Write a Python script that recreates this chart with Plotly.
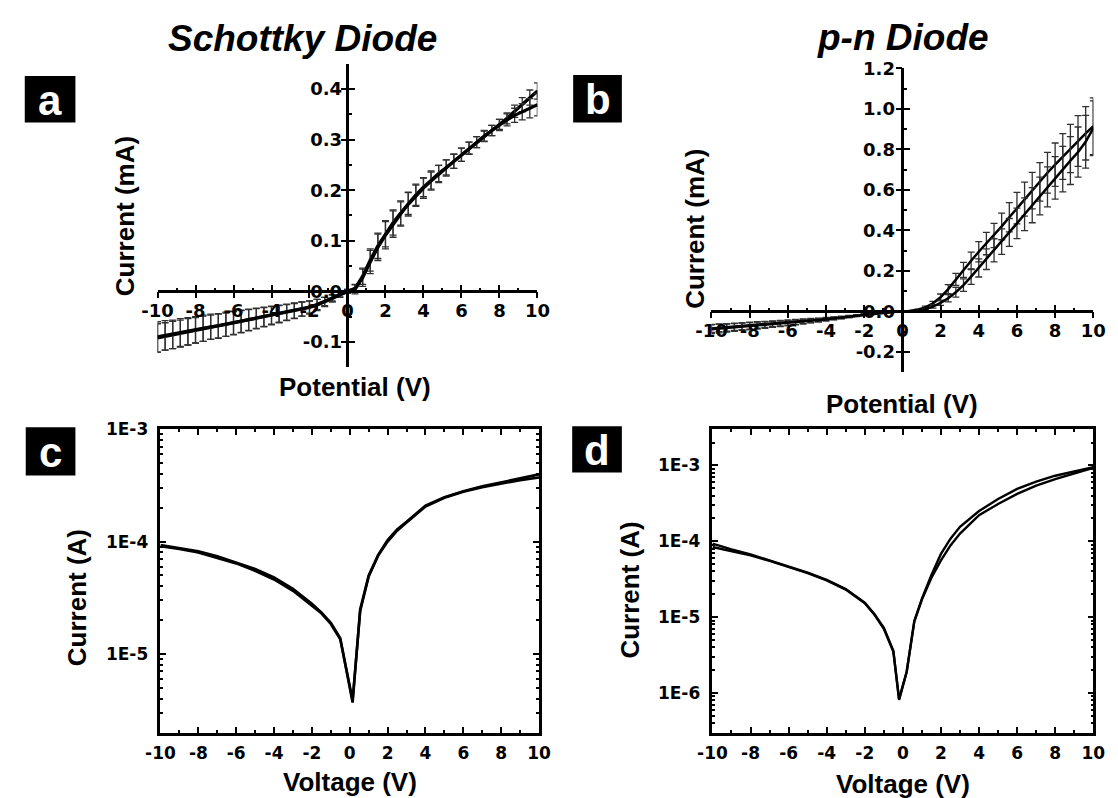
import math
import plotly.graph_objects as go

W, H = 1118, 798
FONT = "Liberation Sans, Arial, sans-serif"
TFONT = "DejaVu Sans, sans-serif"

# ---------------- data ----------------
# sweep voltages used for panels a and b (V)
v_sweep = [-10.0, -9.6, -9.2, -8.8, -8.4, -8.0, -7.6, -7.2, -6.8, -6.4, -6.0, -5.6, -5.2,
           -4.8, -4.4, -4.0, -3.6, -3.2, -2.8, -2.4, -2.0, -1.6, -1.2, -0.8, -0.4, 0.0,
           0.4, 0.8, 1.2, 1.6, 2.0, 2.4, 2.8, 3.2, 3.6, 4.0, 4.4, 4.8, 5.2, 5.6, 6.0,
           6.4, 6.8, 7.2, 7.6, 8.0, 8.4, 8.8, 9.2, 9.6, 10.0]

# panel a: Schottky diode, current (mA)
a_fwd = [-0.092, -0.089, -0.086, -0.083, -0.080, -0.077, -0.074, -0.071, -0.069, -0.066, -0.063,
         -0.060, -0.057, -0.054, -0.051, -0.048, -0.045, -0.042, -0.039, -0.035, -0.032, -0.027,
         -0.021, -0.014, -0.007, 0.000,
         0.006, 0.030, 0.062, 0.090, 0.114, 0.136, 0.155, 0.174, 0.191, 0.206, 0.220, 0.233,
         0.245, 0.257, 0.270, 0.283, 0.295, 0.307, 0.318, 0.330, 0.342, 0.356, 0.369, 0.383, 0.396]
a_rev = [-0.090, -0.087, -0.085, -0.082, -0.079, -0.076, -0.073, -0.070, -0.068, -0.065, -0.062,
         -0.059, -0.056, -0.053, -0.050, -0.047, -0.044, -0.041, -0.038, -0.035, -0.031, -0.026,
         -0.020, -0.013, -0.006, 0.000,
         0.004, 0.027, 0.058, 0.087, 0.111, 0.133, 0.153, 0.172, 0.189, 0.204, 0.218, 0.232,
         0.244, 0.257, 0.270, 0.283, 0.295, 0.307, 0.318, 0.329, 0.339, 0.348, 0.355, 0.362, 0.369]
a_fwd_err = [0.028, 0.027, 0.027, 0.026, 0.026, 0.025, 0.025, 0.024, 0.024, 0.023, 0.023, 0.022,
             0.021, 0.020, 0.019, 0.018, 0.017, 0.016, 0.015, 0.014, 0.013, 0.011, 0.009, 0.007,
             0.005, 0.004,
             0.008, 0.016, 0.022, 0.025, 0.026, 0.025, 0.024, 0.022, 0.021, 0.019, 0.018, 0.016,
             0.015, 0.014, 0.013, 0.012, 0.011, 0.010, 0.010, 0.010, 0.011, 0.012, 0.014, 0.015, 0.016]
a_rev_err = [0.030, 0.029, 0.028, 0.028, 0.027, 0.026, 0.026, 0.025, 0.024, 0.024, 0.023, 0.022,
             0.021, 0.020, 0.019, 0.018, 0.017, 0.016, 0.015, 0.014, 0.012, 0.010, 0.008, 0.006,
             0.005, 0.004,
             0.009, 0.017, 0.023, 0.026, 0.027, 0.026, 0.024, 0.023, 0.021, 0.020, 0.018, 0.017,
             0.016, 0.014, 0.013, 0.012, 0.011, 0.011, 0.010, 0.011, 0.012, 0.014, 0.016, 0.019, 0.022]

# panel b: p-n diode, current (mA)
b_fwd = [-0.084, -0.081, -0.079, -0.076, -0.073, -0.070, -0.067, -0.064, -0.061, -0.058, -0.055,
         -0.052, -0.048, -0.045, -0.042, -0.038, -0.034, -0.030, -0.025, -0.020, -0.015, -0.011,
         -0.007, -0.004, -0.002, 0.000,
         0.002, 0.008, 0.020, 0.040, 0.070, 0.110, 0.158, 0.205, 0.250, 0.295, 0.335, 0.375,
         0.420, 0.465, 0.510, 0.555, 0.597, 0.640, 0.685, 0.725, 0.765, 0.805, 0.842, 0.880, 0.915]
b_rev = [-0.088, -0.085, -0.082, -0.079, -0.076, -0.073, -0.070, -0.067, -0.064, -0.061, -0.058,
         -0.054, -0.051, -0.047, -0.043, -0.039, -0.035, -0.031, -0.026, -0.021, -0.016, -0.012,
         -0.008, -0.004, -0.002, 0.000,
         0.001, 0.004, 0.011, 0.024, 0.042, 0.065, 0.095, 0.130, 0.172, 0.215, 0.258, 0.302,
         0.345, 0.390, 0.435, 0.480, 0.525, 0.570, 0.615, 0.660, 0.703, 0.745, 0.787, 0.838, 0.905]
b_fwd_err = [0.020, 0.019, 0.019, 0.018, 0.017, 0.017, 0.016, 0.015, 0.014, 0.014, 0.013, 0.012,
             0.011, 0.010, 0.009, 0.008, 0.007, 0.006, 0.005, 0.004, 0.004, 0.003, 0.002, 0.002,
             0.001, 0.001,
             0.001, 0.003, 0.006, 0.010, 0.016, 0.022, 0.030, 0.037, 0.043, 0.050, 0.055, 0.060,
             0.066, 0.072, 0.078, 0.084, 0.090, 0.095, 0.101, 0.107, 0.113, 0.119, 0.125, 0.132, 0.140]
b_rev_err = [0.022, 0.021, 0.020, 0.019, 0.018, 0.018, 0.017, 0.016, 0.015, 0.014, 0.013, 0.012,
             0.011, 0.010, 0.009, 0.008, 0.007, 0.006, 0.005, 0.004, 0.004, 0.003, 0.002, 0.002,
             0.001, 0.001,
             0.001, 0.002, 0.004, 0.008, 0.012, 0.018, 0.024, 0.031, 0.038, 0.045, 0.051, 0.057,
             0.063, 0.069, 0.075, 0.081, 0.087, 0.093, 0.099, 0.105, 0.112, 0.118, 0.124, 0.130, 0.135]

# panel c: Schottky diode, |current| (A)
c_v = [-10, -9, -8, -7, -6, -5, -4, -3, -2, -1.5, -1, -0.5, 0.15, 0.55, 1, 1.5, 2, 2.5, 3,
       4, 5, 6, 7, 8, 9, 10]
c_fwd = [9.3e-5, 8.8e-5, 8.2e-5, 7.4e-5, 6.5e-5, 5.7e-5, 4.8e-5, 3.8e-5, 2.8e-5, 2.35e-5, 1.9e-5,
         1.38e-5, 3.7e-6, 2.5e-5, 5.0e-5, 7.6e-5, 1.03e-4, 1.28e-4, 1.5e-4, 2.09e-4, 2.48e-4,
         2.8e-4, 3.1e-4, 3.37e-4, 3.66e-4, 3.96e-4]
c_rev = [9.1e-5, 8.6e-5, 8.0e-5, 7.2e-5, 6.4e-5, 5.5e-5, 4.6e-5, 3.65e-5, 2.7e-5, 2.3e-5, 1.85e-5,
         1.35e-5, 3.9e-6, 2.4e-5, 4.9e-5, 7.5e-5, 1.0e-4, 1.25e-4, 1.48e-4, 2.05e-4, 2.45e-4,
         2.78e-4, 3.05e-4, 3.3e-4, 3.52e-4, 3.72e-4]

# panel d: p-n diode, |current| (A)
d_v = [-10, -9, -8, -7, -6, -5, -4, -3, -2, -1.5, -1, -0.5, -0.2, 0.2, 0.6, 1, 1.5, 2, 2.5, 3,
       4, 5, 6, 7, 8, 9, 10]
d_fwd = [9.3e-5, 7.8e-5, 6.7e-5, 5.6e-5, 4.7e-5, 3.85e-5, 3.1e-5, 2.35e-5, 1.55e-5, 1.1e-5, 7.2e-6,
         3.6e-6, 8.1e-7, 1.9e-6, 8.9e-6, 1.75e-5, 3.6e-5, 6.8e-5, 1.08e-4, 1.55e-4, 2.5e-4,
         3.6e-4, 4.9e-4, 6.1e-4, 7.3e-4, 8.4e-4, 9.5e-4]
d_rev = [8.4e-5, 7.4e-5, 6.5e-5, 5.5e-5, 4.6e-5, 3.8e-5, 3.05e-5, 2.3e-5, 1.52e-5, 1.08e-5, 7.0e-6,
         3.5e-6, 8.3e-7, 1.9e-6, 8.7e-6, 1.7e-5, 3.3e-5, 5.6e-5, 8.8e-5, 1.26e-4, 2.2e-4,
         3.1e-4, 4.2e-4, 5.4e-4, 6.6e-4, 7.9e-4, 9.3e-4]

# tick labels
x_tickvals = [-10, -8, -6, -4, -2, 0, 2, 4, 6, 8, 10]
x_ticktext = ["-10", "-8", "-6", "-4", "-2", "0", "2", "4", "6", "8", "10"]
a_y_tickvals = [-0.1, 0.0, 0.1, 0.2, 0.3, 0.4]
a_y_ticktext = ["-0.1", "0.0", "0.1", "0.2", "0.3", "0.4"]
b_y_tickvals = [-0.2, 0.0, 0.2, 0.4, 0.6, 0.8, 1.0, 1.2]
b_y_ticktext = ["-0.2", "0.0", "0.2", "0.4", "0.6", "0.8", "1.0", "1.2"]
c_y_tickvals = [1e-5, 1e-4, 1e-3]
c_y_ticktext = ["1E-5", "1E-4", "1E-3"]
d_y_tickvals = [1e-6, 1e-5, 1e-4, 1e-3]
d_y_ticktext = ["1E-6", "1E-5", "1E-4", "1E-3"]


# ---------------- helpers (layout positions in pixels) ----------------
def fx(p):
    return p / W


def fy(p):
    return 1 - p / H


def bold(lst):
    return ["<b>%s</b>" % t for t in lst]


tickfont_lin = dict(family=TFONT, size=18, color="black")
tickfont_log = dict(family=TFONT, size=17, color="black")
err_col = "#303030"

fig = go.Figure()


def add_curve(x, y, err, xa, ya, width):
    fig.add_trace(go.Scatter(
        x=x, y=y, xaxis=xa, yaxis=ya, mode="lines",
        line=dict(color="black", width=width),
        error_y=dict(type="data", array=err, visible=True, color=err_col,
                     thickness=1.3, width=3.5),
        showlegend=False, hoverinfo="skip"))


add_curve(v_sweep, a_fwd, a_fwd_err, "x", "y", 3.2)
add_curve(v_sweep, a_rev, a_rev_err, "x", "y", 3.2)
add_curve(v_sweep, b_fwd, b_fwd_err, "x2", "y2", 2.5)
add_curve(v_sweep, b_rev, b_rev_err, "x2", "y2", 2.5)

for yy in (c_fwd, c_rev):
    fig.add_trace(go.Scatter(x=c_v, y=yy, xaxis="x3", yaxis="y3", mode="lines",
                             line=dict(color="black", width=2.6), showlegend=False,
                             hoverinfo="skip"))
for yy in (d_fwd, d_rev):
    fig.add_trace(go.Scatter(x=d_v, y=yy, xaxis="x4", yaxis="y4", mode="lines",
                             line=dict(color="black", width=2.4), showlegend=False,
                             hoverinfo="skip"))

# dummy traces so the overlay tick axes are drawn
fig.add_trace(go.Scatter(x=[None], y=[None], xaxis="x5", yaxis="y5", showlegend=False))
fig.add_trace(go.Scatter(x=[None], y=[None], xaxis="x6", yaxis="y6", showlegend=False))

base = dict(showgrid=False, zeroline=False, showline=True, linecolor="black",
            linewidth=2.6, tickcolor="black", tickwidth=2, ticklen=6)
lin = dict(base, tickfont=tickfont_lin)
logc = dict(base, tickfont=tickfont_log)
tick_only = dict(showline=False, showgrid=False, zeroline=False, showticklabels=False,
                 ticks="outside", tickmode="linear", tick0=0, ticklen=6,
                 tickwidth=2, tickcolor="black")

# panel a geometry
a_dom_x = [fx(145.3), fx(535.3)]
a_dom_y = [fy(361.25), fy(53.45)]
a_xpos = fy(284.3)
a_ypos = fx(340.3)
# panel b geometry
b_dom_x = [fx(714), fx(1106)]
b_dom_y = [fy(366.2), fy(58.3)]
b_xpos = fy(304.6)
b_ypos = fx(910)
# panels c, d geometry
c_dom_x = [fx(148.3), fx(537)]
d_dom_x = [fx(715), fx(1106)]
cd_dom_y = [fy(731.7), fy(424)]

c_minor = [m * 10 ** e for e in (-6, -5, -4) for m in range(2, 10)]
d_minor = [m * 10 ** e for e in (-7, -6, -5, -4, -3) for m in range(2, 10)]


def minor(dt):
    return dict(ticks="inside", tickmode="linear", tick0=0, dtick=dt,
                ticklen=3, tickwidth=2, tickcolor="black")


fig.update_layout(
    width=W, height=H, autosize=False,
    margin=dict(l=0, r=0, t=0, b=0),
    paper_bgcolor="white", plot_bgcolor="rgba(0,0,0,0)",
    font=dict(family=FONT, color="black"),
    # ---- panel a
    xaxis=dict(domain=a_dom_x, range=[-10, 10], anchor="free", position=a_xpos,
               ticks="inside", tickmode="array", tickvals=x_tickvals,
               ticktext=bold(x_ticktext), ticklabelstandoff=2, minor=minor(1), **lin),
    yaxis=dict(domain=a_dom_y, range=[-0.15, 0.45], anchor="free", position=a_ypos,
               ticks="inside", tickmode="array", tickvals=a_y_tickvals,
               ticktext=bold(a_y_ticktext), ticklabelstandoff=1, minor=minor(0.05),
               **lin),
    xaxis5=dict(overlaying="x", range=[-10, 10], anchor="free", position=a_xpos,
                dtick=2, **tick_only),
    yaxis5=dict(overlaying="y", range=[-0.15, 0.45], anchor="free", position=a_ypos,
                dtick=0.1, **tick_only),
    # ---- panel b
    xaxis2=dict(domain=b_dom_x, range=[-10, 10], anchor="free", position=b_xpos,
                ticks="inside", tickmode="array", tickvals=x_tickvals,
                ticktext=bold(x_ticktext), ticklabelstandoff=2, minor=minor(1), **lin),
    yaxis2=dict(domain=b_dom_y, range=[-0.3, 1.2], anchor="free", position=b_ypos,
                ticks="inside", tickmode="array", tickvals=b_y_tickvals,
                ticktext=bold(b_y_ticktext), ticklabelstandoff=3, minor=minor(0.1),
                **lin),
    xaxis6=dict(overlaying="x2", range=[-10, 10], anchor="free", position=b_xpos,
                dtick=2, **tick_only),
    yaxis6=dict(overlaying="y2", range=[-0.3, 1.2], anchor="free", position=b_ypos,
                dtick=0.2, **tick_only),
    # ---- panel c
    xaxis3=dict(domain=c_dom_x, range=[-10, 10], anchor="y3", mirror="allticks",
                ticks="inside", tickmode="array", tickvals=x_tickvals,
                ticktext=bold(x_ticktext), ticklabelstandoff=3, minor=minor(1), **logc),
    yaxis3=dict(domain=cd_dom_y, type="log",
                range=[math.log10(2e-6), math.log10(1e-3)], anchor="x3",
                mirror="allticks", ticks="inside", tickmode="array",
                tickvals=c_y_tickvals, ticktext=bold(c_y_ticktext), ticklabelstandoff=6,
                minor=dict(ticks="inside", tickmode="array", tickvals=c_minor,
                           ticklen=3, tickwidth=1.5, tickcolor="black"), **logc),
    # ---- panel d
    xaxis4=dict(domain=d_dom_x, range=[-10, 10], anchor="y4", mirror="allticks",
                ticks="inside", tickmode="array", tickvals=x_tickvals,
                ticktext=bold(x_ticktext), ticklabelstandoff=3, minor=minor(1), **logc),
    yaxis4=dict(domain=cd_dom_y, type="log",
                range=[math.log10(3e-7), math.log10(3e-3)], anchor="x4",
                mirror="allticks", ticks="inside", tickmode="array",
                tickvals=d_y_tickvals, ticktext=bold(d_y_ticktext), ticklabelstandoff=6,
                minor=dict(ticks="inside", tickmode="array", tickvals=d_minor,
                           ticklen=3, tickwidth=1.5, tickcolor="black"), **logc),
)

# ---------------- texts ----------------
ann = []


def text(s, x, y, size, angle=0, color="black"):
    ann.append(dict(text=s, x=fx(x), y=fy(y), xref="paper", yref="paper",
                    xanchor="center", yanchor="middle", showarrow=False,
                    textangle=angle,
                    font=dict(family=FONT, size=size, color=color)))


text("<b><i>Schottky Diode</i></b>", 294, 28, 37)
text("<b><i>p-n Diode</i></b>", 911, 27, 37)
text("<b>Potential (V)</b>", 348, 381, 26)
text("<b>Potential (V)</b>", 910, 398, 26)
text("<b>Current (mA)</b>", 112, 208, 26, -90)
text("<b>Current (mA)</b>", 697, 221, 26, -90)
text("<b>Voltage (V)</b>", 343, 782, 26)
text("<b>Voltage (V)</b>", 911, 784, 26)
text("<b>Current (A)</b>", 62, 595, 26, -90)
text("<b>Current (A)</b>", 630, 587, 26, -90)

# panel letters in black boxes
shapes = []
for letter, (x0, x1, y0, y1) in [("a", (9, 61, 66, 113)), ("b", (572, 622, 65, 113)),
                                  ("c", (10, 61, 422, 471)), ("d", (571, 622, 421, 468))]:
    shapes.append(dict(type="rect", xref="paper", yref="paper",
                       x0=fx(x0), x1=fx(x1), y0=fy(y1), y1=fy(y0),
                       fillcolor="black", line=dict(width=0), layer="below"))
    text("<b>%s</b>" % letter, (x0 + x1) / 2, (y0 + y1) / 2 + 1, 42, color="white")

fig.update_layout(annotations=ann, shapes=shapes)

fig.write_html("out.html")
